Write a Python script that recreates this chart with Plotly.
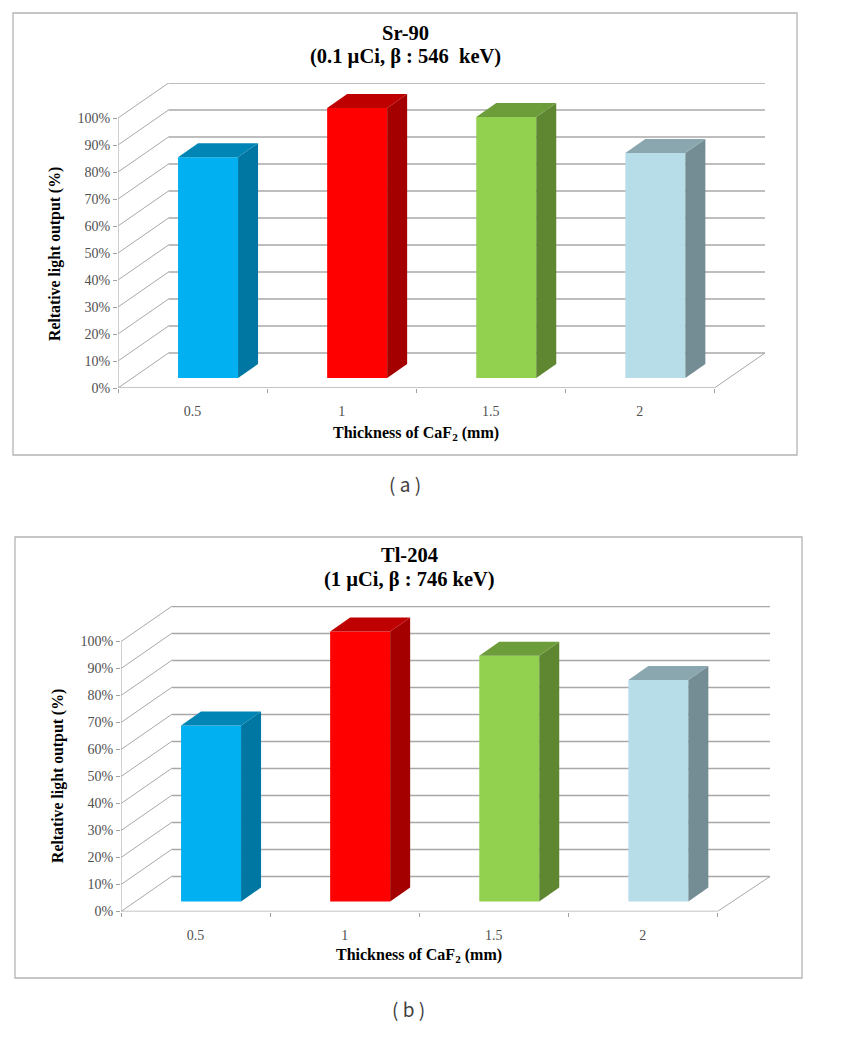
import plotly.graph_objects as go

# ---------- data ----------
categories = ["0.5", "1", "1.5", "2"]
sr90_values = [81.8, 100, 96.7, 83.3]
tl204_values = [65.2, 100, 91, 82]
y_ticks = [0, 10, 20, 30, 40, 50, 60, 70, 80, 90, 100]
y_tick_labels = ["0%", "10%", "20%", "30%", "40%", "50%", "60%", "70%", "80%", "90%", "100%"]

# ---------- styles ----------
front_colors = ["#00B0F0", "#FF0000", "#92D050", "#B7DEE8"]
side_colors = ["#0077A3", "#A50000", "#5F8732", "#748C93"]
top_colors = ["#0085B5", "#BF0000", "#6D9C3A", "#8AA6AF"]
GRID = "#A8A8A8"
FRAME = "#B4B4B4"
TICK_TXT = "#505050"
SERIF = "Liberation Serif"
W, H = 861, 1045
Y_BASIS = 1037      # rendered height of the paper area in the photographed page
PX_PER_UNIT = 2.7   # pixels per 1 % on the value axis
SLOT = 149.1        # pixels per category


def px_x(v):
    return v / W


def px_y(v):
    return 1 - v / Y_BASIS


panels = [
    dict(values=sr90_values, x0=118, xr=765, y0=388, ytop=83, frame=(13, 13, 797, 455),
         title=["Sr-90", "(0.1 µCi, β : 546  keV)"], tx=405, ty=[33, 57], xtx=416, xty=433,
         ytx=55, yty=254, cap="( a )", capx=405, capy=484),
    dict(values=tl204_values, x0=121, xr=770, y0=911.5, ytop=606, frame=(15, 537, 802, 978),
         title=["Tl-204", "(1 µCi, β : 746 keV)"], tx=409, ty=[555, 579], xtx=419, xty=955,
         ytx=58, yty=776, cap="( b )", capx=408, capy=1008),
]

WALL_DX = 50.5 / SLOT
WALL_DY = 35 / PX_PER_UNIT
BAR_DX = 20 / SLOT
BAR_DY = 14 / PX_PER_UNIT
BAR_LIFT = 10 / PX_PER_UNIT
BAR_W = 60 / SLOT
BAR_SHIFT = 15.5 / SLOT
n = len(categories)

fig = go.Figure()
shapes, annotations = [], []
layout_axes = {}

for p_i, p in enumerate(panels):
    base = p_i * 2
    sx = "" if base == 0 else str(base // 2 + 1)     # wall axes: x / x2
    ov = str(base // 2 + 3)                          # bar overlay axes: x3 / x4
    xa, ya = "x" + sx, "y" + sx
    xb, yb = "x" + ov, "y" + ov

    xrange_ = [0, (p["xr"] - p["x0"]) / SLOT]
    yrange_ = [0, (p["y0"] - p["ytop"]) / PX_PER_UNIT]
    dom_x = [px_x(p["x0"]), px_x(p["xr"])]
    dom_y = [px_y(p["y0"]), px_y(p["ytop"])]

    wall_line = dict(color=GRID, width=1.4)

    def line(xs, ys, ln=wall_line):
        fig.add_trace(go.Scatter(x=xs, y=ys, mode="lines", line=ln, xaxis=xa, yaxis=ya,
                                 cliponaxis=False, hoverinfo="skip", showlegend=False))

    for v in y_ticks:
        line([WALL_DX, xrange_[1]], [v + WALL_DY, v + WALL_DY])
        line([0, WALL_DX], [v, v + WALL_DY], dict(color=GRID, width=1))
    line([n, xrange_[1]], [0, WALL_DY], dict(color=GRID, width=1))
    line([0, n], [0, 0], dict(color="#B0B0B0", width=1.6))
    line([0, 0], [0, y_ticks[-1]], dict(color="#B0B0B0", width=1.2))

    centers = [i + 0.5 for i in range(n)]
    bar_x = [c + BAR_SHIFT for c in centers]
    fig.add_trace(go.Bar(x=bar_x, y=p["values"], base=BAR_LIFT, width=BAR_W,
                         marker=dict(color=front_colors, line=dict(width=0)),
                         xaxis=xb, yaxis=yb, showlegend=False, hoverinfo="skip"))
    for i, v in enumerate(p["values"]):
        right = bar_x[i] + BAR_W / 2
        left = bar_x[i] - BAR_W / 2
        top = BAR_LIFT + v
        fig.add_trace(go.Scatter(
            x=[right, right + BAR_DX, right + BAR_DX, right, right],
            y=[BAR_LIFT, BAR_LIFT + BAR_DY, top + BAR_DY, top, BAR_LIFT],
            fill="toself", fillcolor=side_colors[i], mode="none", xaxis=xb, yaxis=yb,
            cliponaxis=False, hoverinfo="skip", showlegend=False))
        fig.add_trace(go.Scatter(
            x=[left, left + BAR_DX, right + BAR_DX, right, left],
            y=[top, top + BAR_DY, top + BAR_DY, top, top],
            fill="toself", fillcolor=top_colors[i], mode="none", xaxis=xb, yaxis=yb,
            cliponaxis=False, hoverinfo="skip", showlegend=False))

    xname = "xaxis" + sx
    yname = "yaxis" + sx
    layout_axes[xname] = dict(
        domain=dom_x, range=xrange_, anchor=ya, showgrid=False, zeroline=False, showline=False,
        tickmode="array", tickvals=centers, ticktext=categories, ticks="", ticklabelstandoff=13,
        tickfont=dict(family=SERIF, size=14, color=TICK_TXT),
        minor=dict(tickmode="array", tickvals=list(range(n + 1)), ticks="outside", ticklen=4,
                   tickcolor="#A0A0A0", tickwidth=1, showgrid=False),
    )
    layout_axes[yname] = dict(
        domain=dom_y, range=yrange_, anchor=xa, showgrid=False, zeroline=False, showline=False,
        tickmode="array", tickvals=y_ticks, ticktext=y_tick_labels, ticks="outside", ticklen=4,
        tickcolor="#A0A0A0", tickwidth=1,
        tickfont=dict(family=SERIF, size=14, color=TICK_TXT),
    )
    layout_axes["xaxis" + ov] = dict(overlaying=xa, range=xrange_, visible=False, anchor=yb)
    layout_axes["yaxis" + ov] = dict(overlaying=ya, range=yrange_, visible=False, anchor=xb)

    fx0, fy0, fx1, fy1 = p["frame"]
    shapes.append(dict(type="rect", xref="paper", yref="paper", x0=px_x(fx0), x1=px_x(fx1),
                       y0=px_y(fy1), y1=px_y(fy0), line=dict(color=FRAME, width=1.3),
                       fillcolor="rgba(0,0,0,0)", layer="below"))

    def note(text, x, y, size, family=SERIF, color="#000000", angle=0):
        annotations.append(dict(text=text, xref="paper", yref="paper", x=px_x(x), y=px_y(y),
                                xanchor="center", yanchor="middle", showarrow=False,
                                textangle=angle, font=dict(family=family, size=size, color=color)))

    for line_text, line_y in zip(p["title"], p["ty"]):
        note("<b>" + line_text + "</b>", p["tx"], line_y, 20.5)
    note("<b>Thickness of CaF<sub>2</sub> (mm)</b>", p["xtx"], p["xty"], 16)
    note("<b>Reltative light output (%)</b>", p["ytx"], p["yty"], 15.8, angle=-90)
    note(p["cap"], p["capx"], p["capy"], 19, family="Noto Sans CJK KR", color="#404040")

fig.update_layout(
    width=W, height=H, margin=dict(l=0, r=0, t=0, b=0), autosize=False,
    paper_bgcolor="white", plot_bgcolor="rgba(0,0,0,0)", showlegend=False,
    shapes=shapes, annotations=annotations, barmode="overlay", **layout_axes,
)
fig.write_html("out.html", config=dict(displayModeBar=False, responsive=False),
               default_width=W, default_height=H,
               post_script="document.body.style.margin='0';")
